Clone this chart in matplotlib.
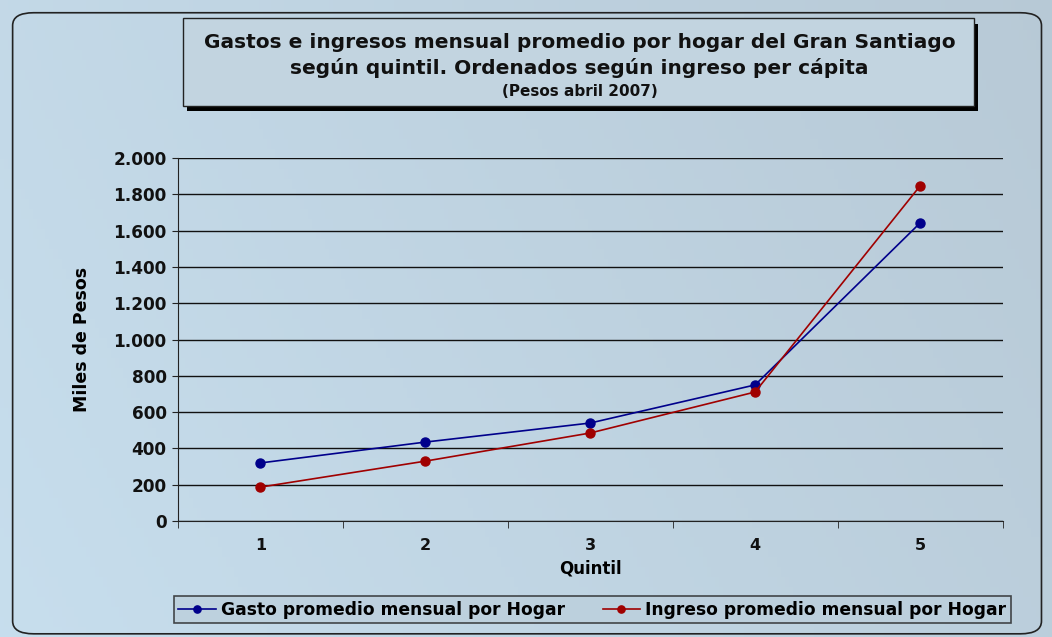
import matplotlib
matplotlib.use("Agg")
import matplotlib.pyplot as plt
from matplotlib.patches import FancyBboxPatch, Rectangle
from matplotlib.ticker import FuncFormatter, FixedLocator
import numpy as np

# data (miles de pesos)
quintiles = [1, 2, 3, 4, 5]
gasto = [320, 435, 540, 750, 1642]
ingreso = [187, 330, 485, 711, 1846]

title_lines = [
    "Gastos e ingresos mensual promedio por hogar del Gran Santiago",
    "según quintil. Ordenados según ingreso per cápita",
]
subtitle = "(Pesos abril 2007)"

plt.rcParams["font.family"] = ["DejaVu Sans"]

fig = plt.figure(figsize=(10.52, 6.37), dpi=100)

# background gradient
bg = fig.add_axes([0, 0, 1, 1], zorder=-10)
grad = np.linspace(0, 1, 256)
gx, gy = np.meshgrid(grad, np.linspace(0, 1, 64))
c0 = np.array([0.78, 0.87, 0.93])
c1 = np.array([0.72, 0.79, 0.84])
t = np.clip(0.75 * gx + 0.25 * gy, 0, 1)[..., None]
img = c0 * (1 - t) + c1 * t
bg.imshow(img, extent=[0, 1, 0, 1], aspect="auto", origin="lower")
bg.set_xlim(0, 1)
bg.set_ylim(0, 1)
bg.axis("off")
bg.add_patch(FancyBboxPatch((0.012, 0.005), 0.978, 0.975,
                            boxstyle="round,pad=0,rounding_size=0.02",
                            fill=False, ec="#222222", lw=1.2))

# title box with shadow
bg.add_patch(Rectangle((0.178, 0.825), 0.752, 0.138, fc="black", ec="none"))
bg.add_patch(Rectangle((0.174, 0.833), 0.752, 0.138, fc="#c2d4e0", ec="#222222", lw=1))
fig.text(0.551, 0.933, title_lines[0], ha="center", va="center",
         fontsize=14.5, fontweight="bold", color="#111111")
fig.text(0.551, 0.893, title_lines[1], ha="center", va="center",
         fontsize=14.5, fontweight="bold", color="#111111")
fig.text(0.551, 0.857, subtitle, ha="center", va="center",
         fontsize=11, fontweight="bold", color="#111111")

ax = fig.add_axes([0.169, 0.182, 0.784, 0.570])
ax.patch.set_alpha(0)
ax.plot(quintiles, gasto, color="#00008b", lw=1.2, marker="o", ms=6.5,
        label="Gasto promedio mensual por Hogar", zorder=3)
ax.plot(quintiles, ingreso, color="#a00000", lw=1.2, marker="o", ms=6.5,
        label="Ingreso promedio mensual por Hogar", zorder=3)

ax.set_xlim(0.5, 5.5)
ax.set_ylim(0, 2000)
ax.set_yticks(np.arange(0, 2001, 200))
ax.yaxis.set_major_formatter(FuncFormatter(lambda v, p: f"{int(v):,}".replace(",", ".")))
ax.set_xticks(quintiles)
ax.xaxis.set_minor_locator(FixedLocator(np.arange(0.5, 5.6, 1)))
ax.tick_params(axis="x", which="major", length=0, pad=12)
ax.tick_params(axis="x", which="minor", length=5, color="#222222")
ax.tick_params(axis="y", length=4, color="#222222", pad=4)
for lab in ax.get_yticklabels():
    lab.set_fontweight("bold")
    lab.set_fontsize(12.2)
    lab.set_color("#111111")
for lab in ax.get_xticklabels():
    lab.set_fontweight("bold")
    lab.set_fontsize(11.5)
    lab.set_color("#111111")
ax.grid(axis="y", color="#111111", lw=1)
ax.set_axisbelow(True)
for side in ["top", "right"]:
    ax.spines[side].set_visible(False)
ax.spines["left"].set_color("#222222")
ax.spines["bottom"].set_color("#222222")
ax.set_xlabel("Quintil", fontsize=12, fontweight="bold", labelpad=5)
ax.set_ylabel("Miles de Pesos", fontsize=12.5, fontweight="bold", labelpad=16)

leg = fig.legend(loc="center", bbox_to_anchor=(0.563, 0.043), ncol=2,
                 frameon=True, fancybox=False, handlelength=2.2,
                 prop={"size": 12.3, "weight": "bold"},
                 markerscale=0.8, columnspacing=2.2, borderpad=0.25,
                 handletextpad=0.3)
leg.get_frame().set_edgecolor("#222222")
leg.get_frame().set_facecolor("#bccfdc")
leg.get_frame().set_linewidth(1.2)

fig.savefig("out.png", dpi=100)
